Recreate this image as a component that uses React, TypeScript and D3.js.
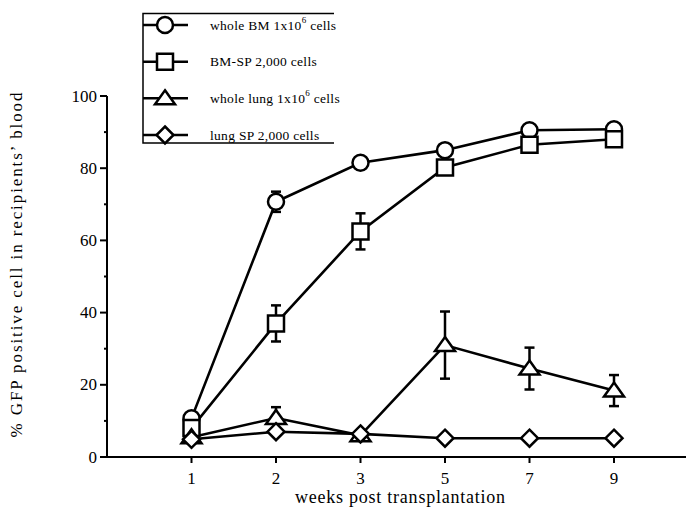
import * as React from "react";
import * as d3 from "d3";

const weeks = ["1", "2", "3", "5", "7", "9"];

const wholeBM = [10.7, 70.7, 81.5, 85, 90.5, 90.8];
const wholeBMErr = [0, 2.8, 0, 0, 0, 0];
const bmSP = [8, 37, 62.5, 80.2, 86.5, 88];
const bmSPErr = [0, 5, 5, 0, 0, 0];
const wholeLung = [5.5, 10.8, 6, 31, 24.5, 18.4];
const wholeLungErr = [0, 3, 0, 9.3, 5.8, 4.3];
const lungSP = [4.9, 7, 6.4, 5.2, 5.2, 5.2];
const lungSPErr = [0, 0, 0, 0, 0, 0];

const seriesLabels = [
  ["whole BM 1x10", "6", " cells"],
  ["BM-SP 2,000 cells", "", ""],
  ["whole lung 1x10", "6", " cells"],
  ["lung SP 2,000 cells", "", ""],
];
const seriesShapes = ["circle", "square", "triangle", "diamond"];

const yTicks = [0, 20, 40, 60, 80, 100];
const yMinorTicks = [10, 30, 50, 70, 90];

const FONT = "'Liberation Serif', 'Times New Roman', serif";

function markerPath(shape: string, cx: number, cy: number): string {
  if (shape === "circle") {
    const p = d3.path();
    p.arc(cx, cy, 8, 0, Math.PI * 2);
    return p.toString();
  }
  if (shape === "square") {
    const h = 8;
    return `M${cx - h},${cy - h}H${cx + h}V${cy + h}H${cx - h}Z`;
  }
  if (shape === "triangle") {
    return `M${cx},${cy - 8}L${cx + 10},${cy + 6}H${cx - 10}Z`;
  }
  const d = 8.5;
  return `M${cx},${cy - d}L${cx + d},${cy}L${cx},${cy + d}L${cx - d},${cy}Z`;
}

export default function App() {
  const width = 688;
  const height = 509;

  const x = d3.scalePoint<string>().domain(weeks).range([107, 698.5]).padding(1);
  const y = d3.scaleLinear().domain([0, 100]).range([457, 96]);

  const series = [
    { values: wholeBM, err: wholeBMErr },
    { values: bmSP, err: bmSPErr },
    { values: wholeLung, err: wholeLungErr },
    { values: lungSP, err: lungSPErr },
  ];

  const line = d3
    .line<number>()
    .x((_, i) => x(weeks[i]) as number)
    .y((v) => y(v));

  const legendRows = [25, 61.7, 98.3, 135];

  return (
    <svg
      width={width}
      height={height}
      style={{ position: "absolute", left: 0, top: 0, background: "#fff" }}
      fontFamily={FONT}
    >
      <rect width={width} height={height} fill="#fff" />

      {/* axes */}
      <line x1={107} x2={107} y1={y(100)} y2={y(0)} stroke="#000" strokeWidth={2} />
      <line x1={107} x2={686} y1={y(0)} y2={y(0)} stroke="#000" strokeWidth={2} />

      {yTicks.map((t) => (
        <g key={t}>
          <line x1={100} x2={107} y1={y(t)} y2={y(t)} stroke="#000" strokeWidth={2} />
          <text
            x={97}
            y={y(t)}
            textAnchor="end"
            dominantBaseline="central"
            fontSize={17}
          >
            {t}
          </text>
        </g>
      ))}
      {yMinorTicks.map((t) => (
        <line key={t} x1={104} x2={107} y1={y(t)} y2={y(t)} stroke="#000" strokeWidth={2} />
      ))}

      {weeks.map((w) => (
        <g key={w}>
          <line
            x1={x(w)}
            x2={x(w)}
            y1={y(0)}
            y2={y(0) + 6}
            stroke="#000"
            strokeWidth={2}
          />
          <text x={x(w)} y={484} textAnchor="middle" fontSize={17}>
            {w}
          </text>
        </g>
      ))}

      <text x={400} y={503} textAnchor="middle" fontSize={18} textLength={210} lengthAdjust="spacing">
        weeks post transplantation
      </text>
      <text
        transform={`translate(22,${265}) rotate(-90)`}
        textAnchor="middle"
        fontSize={17}
        textLength={345}
        lengthAdjust="spacing"
      >
        % GFP positive cell in recipients’ blood
      </text>

      {/* lines */}
      {series.map((s, i) => (
        <path key={i} d={line(s.values) ?? ""} fill="none" stroke="#000" strokeWidth={2.6} />
      ))}

      {/* error bars */}
      {series.map((s, i) =>
        s.values.map((v, j) =>
          s.err[j] > 0 ? (
            <g key={`${i}-${j}`} stroke="#000" strokeWidth={2.5}>
              <line x1={x(weeks[j])} x2={x(weeks[j])} y1={y(v - s.err[j])} y2={y(v + s.err[j])} />
              <line
                x1={(x(weeks[j]) as number) - 5}
                x2={(x(weeks[j]) as number) + 5}
                y1={y(v + s.err[j])}
                y2={y(v + s.err[j])}
              />
              <line
                x1={(x(weeks[j]) as number) - 5}
                x2={(x(weeks[j]) as number) + 5}
                y1={y(v - s.err[j])}
                y2={y(v - s.err[j])}
              />
            </g>
          ) : null
        )
      )}

      {/* markers */}
      {series.map((s, i) =>
        s.values.map((v, j) => (
          <path
            key={`m${i}-${j}`}
            d={markerPath(seriesShapes[i], x(weeks[j]) as number, y(v))}
            fill="#fff"
            stroke="#000"
            strokeWidth={2.5}
          />
        ))
      )}

      {/* legend */}
      <path d="M334,13.5H143V143H334" fill="none" stroke="#000" strokeWidth={1.5} />
      {seriesLabels.map((lab, i) => (
        <g key={i}>
          <line x1={143} x2={188} y1={legendRows[i]} y2={legendRows[i]} stroke="#000" strokeWidth={2.6} />
          <path
            d={markerPath(seriesShapes[i], 165, legendRows[i])}
            fill="#fff"
            stroke="#000"
            strokeWidth={2.5}
          />
          <text x={210} y={legendRows[i]} dominantBaseline="central" fontSize={13.5} letterSpacing={0.3}>
            {lab[0]}
            {lab[1] ? (
              <tspan fontSize={9} dy={-5}>
                {lab[1]}
              </tspan>
            ) : null}
            {lab[2] ? <tspan dy={lab[1] ? 5 : 0}>{lab[2]}</tspan> : null}
          </text>
        </g>
      ))}
    </svg>
  );
}
